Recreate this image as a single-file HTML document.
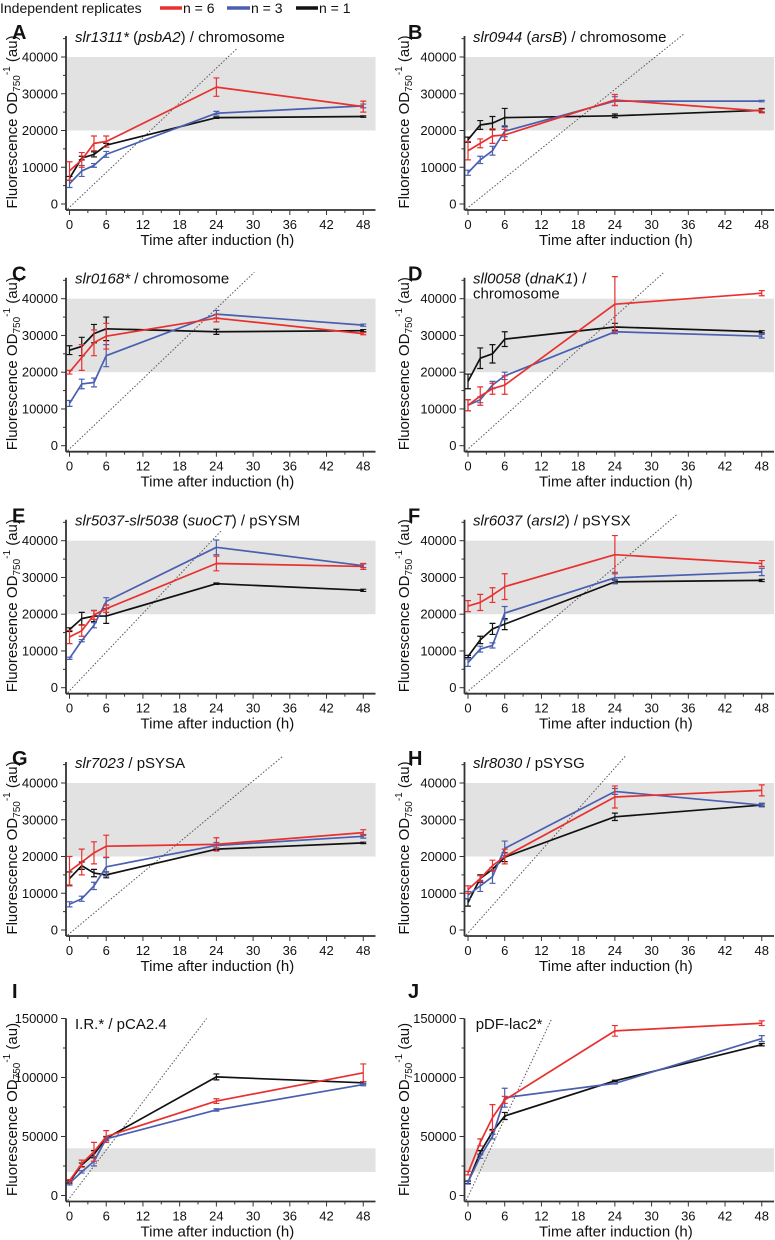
<!DOCTYPE html>
<html><head><meta charset="utf-8"><style>
body{margin:0;background:#fff;width:775px;height:1240px;overflow:hidden}
svg{display:block;font-family:"Liberation Sans",Arial,sans-serif}
</style></head><body>
<svg id="fig" width="775" height="1240" viewBox="0 0 775 1240">
<g>
<text x="0" y="13" font-size="14" fill="#111">Independent replicates</text>
<line x1="160" y1="8" x2="182" y2="8" stroke="#e8312f" stroke-width="3.5"/>
<text x="183" y="13" font-size="14" fill="#111">n = 6</text>
<line x1="227" y1="8" x2="250" y2="8" stroke="#4a5fb0" stroke-width="3.5"/>
<text x="251" y="13" font-size="14" fill="#111">n = 3</text>
<line x1="296" y1="8" x2="318" y2="8" stroke="#111" stroke-width="3.5"/>
<text x="319" y="13" font-size="14" fill="#111">n = 1</text>
</g>
</svg>
<script>
const times=[0,2,4,6,24,48];
const panelLabels=["A","B","C","D","E","F","G","H","I","J"];
const redVals={A:[9000,12000,16500,17000,31800,26500],B:[14500,16500,18500,18800,28300,25300],C:[20000,24000,28000,29800,34700,30500],D:[11000,13500,15500,16500,38500,41500],E:[13800,15500,19800,21500,33800,33000],F:[22200,23200,25200,27500,36200,33800],G:[16000,18500,21000,22800,23300,26500],H:[11000,14000,17500,20000,36200,38000],I:[12500,27000,37000,50000,80000,104000],J:[19000,45000,66000,81000,139500,146000]};
const redErr={A:[2500,2000,2000,1500,2500,1500],B:[2500,1200,2000,1500,1500,500],C:[500,3500,3500,3500,1000,300],D:[1500,2500,1500,2500,7500,700],E:[1800,1500,1200,1000,2000,800],F:[1500,2200,2000,3500,5200,800],G:[4000,3500,3000,3000,1800,800],H:[1000,800,1500,2000,3000,1500],I:[1000,3000,8000,5000,2000,7500],J:[1500,3000,11000,3000,4500,2000]};
const blueVals={A:[5500,9000,10500,13500,24700,26700],B:[8500,12000,14500,19800,28000,28000],C:[11500,16800,17200,24500,35800,32800],D:[11000,12500,16500,19000,31000,29800],E:[8000,12800,17000,23500,38200,33200],F:[6800,10500,11500,20300,29900,31500],G:[7000,8500,12000,17200,23000,25500],H:[9500,12000,14500,22200,37700,34000],I:[10500,20000,29000,48000,72500,94000],J:[11200,33000,50000,82900,95000,133000]};
const blueErr={A:[1000,1500,500,800,500,500],B:[700,1000,1200,1500,1200,200],C:[800,1300,1200,3000,1000,300],D:[1500,800,1000,1000,500,500],E:[300,300,700,1000,2000,500],F:[1000,800,700,1800,1500,1000],G:[700,700,1000,2500,800,500],H:[1000,1500,1800,2000,800,500],I:[1500,1000,4000,1500,1000,1000],J:[1500,1500,2000,8000,500,2500]};
const blackVals={A:[7000,12500,13500,16000,23500,23800],B:[17500,21500,22000,23500,24000,25500],C:[26000,27000,30500,31800,31000,31300],D:[17500,23800,25000,29000,32300,31000],E:[15800,18800,19500,19500,28300,26500],F:[8500,13000,16000,17300,28800,29200],G:[14000,17500,15500,15000,22000,23700],H:[7500,14000,16500,19800,30800,34000],I:[11500,26000,35000,48500,100500,95500],J:[11200,36500,54000,67400,97200,127800]};
const blackErr={A:[500,500,700,500,200,200],B:[700,1200,1800,2500,500,500],C:[1200,2500,2500,3200,700,300],D:[2000,2800,2500,2000,1000,300],E:[500,1700,1500,2000,200,300],F:[300,1000,1500,1500,500,300],G:[1800,1000,1000,800,300,200],H:[1000,1000,500,1200,1000,300],I:[1000,1500,3000,1500,2500,1000],J:[1000,1500,2000,3000,500,1000]};
const smallTicks=[0,10000,20000,30000,40000];
const bigTicks=[0,50000,100000,150000];
const xTicks=[0,6,12,18,24,30,36,42,48];
const refEnd={A:[27.5,42500],B:[35.3,46300],C:[30.2,47200],D:[31.9,47000],E:[24.8,42700],F:[34.2,47200],G:[34.8,47200],H:[25.7,47300],I:[22.4,150000],J:[13.7,150000]};
const bandRange=[20000,40000];
const titles={A:[["slr1311*",1],[" (",0],["psbA2",1],[") / chromosome",0]],B:[["slr0944",1],[" (",0],["arsB",1],[") / chromosome",0]],C:[["slr0168*",1],[" / chromosome",0]],D:[["sll0058",1],[" (",0],["dnaK1",1],[") /",0]],E:[["slr5037-slr5038",1],[" (",0],["suoCT",1],[") / pSYSM",0]],F:[["slr6037",1],[" (",0],["arsI2",1],[") / pSYSX",0]],G:[["slr7023",1],[" / pSYSA",0]],H:[["slr8030",1],[" / pSYSG",0]],I:[["I.R.* / pCA2.4",0]],J:[["pDF-lac2*",0]]};

const NS="http://www.w3.org/2000/svg";
const svg=document.getElementById('fig');
function mk(tag,attrs,parent){const e=document.createElementNS(NS,tag);for(const k in attrs)e.setAttribute(k,attrs[k]);(parent||svg).appendChild(e);return e;}
const rowY0=[204,445.7,687.7,930,1195.5];
const RED="#e8312f",BLUE="#4a5fb0",BLACK="#111";

panelLabels.forEach((L,i)=>{
  const col=i%2,row=Math.floor(i/2);
  const big=row===4;
  const x0=col?468:69.5, y0=rowY0[row];
  const kx=6.12;
  const ky=big?177/50000*1:147/40000;
  const X=h=>x0+h*kx;
  const Y=v=>y0-v*(big?177/150000:147/40000);
  const g=mk('g',{});
  
  
  const axX=x0-3.5, axR=x0+306, axB=y0+6;
  const axTop=big?Y(150000):Y(45700);
  // band
  const band=mk('rect',{x:axX+1,y:Y(bandRange[1]),width:axR-axX-1,height:Y(bandRange[0])-Y(bandRange[1]),fill:"#e2e2e2"},g);
  
  
  // dotted reference
  const re=refEnd[L];
  const dl=mk('line',{x1:X(-0.3),y1:axB-1,x2:X(re[0]),y2:Y(re[1]),stroke:"#555","stroke-width":1,"stroke-dasharray":"1.5,1.8"},g);
  
  
  // axes
  const ya=mk('line',{x1:axX,y1:axTop,x2:axX,y2:axB,stroke:"#333","stroke-width":1.8},g);
  
  
  const xa=mk('line',{x1:axX,y1:axB,x2:axR,y2:axB,stroke:"#333","stroke-width":1.8},g);
  
  
  const yt=big?bigTicks:smallTicks;
  const minorStep=big?25000:5000, maxV=big?150000:45000;
  for(let v=0;v<=maxV;v+=minorStep){mk('line',{x1:axX-(yt.includes(v)?5:3),y1:Y(v),x2:axX,y2:Y(v),stroke:"#333","stroke-width":1},g);}
  yt.forEach(v=>{const t=mk('text',{x:axX-8,y:Y(v)+4.5,"font-size":13,"text-anchor":"end",fill:"#111"},g);t.textContent=v;
    
    });
  for(let h=0;h<=48;h+=3){mk('line',{x1:X(h),y1:axB,x2:X(h),y2:axB+(h%6===0?5:3),stroke:"#333","stroke-width":1},g);}
  xTicks.forEach(h=>{const t=mk('text',{x:X(h),y:axB+19,"font-size":13,"text-anchor":"middle",fill:"#111"},g);t.textContent=h;
    
    });
  const xt=mk('text',{x:X(24)+1,y:axB+35,"font-size":15,"text-anchor":"middle",fill:"#111"},g);xt.textContent="Time after induction (h)";
  
  
  const ycx=col?404:12, ycy=big?y0-86:y0-82;
  const ytl=mk('text',{x:0,y:0,"font-size":15,"text-anchor":"middle",fill:"#111",transform:`translate(${ycx+5},${ycy}) rotate(-90)`},g);
  ytl.innerHTML='Fluorescence OD<tspan font-size="10" dy="3">750</tspan><tspan font-size="10" dy="-10">-1</tspan><tspan dy="7"> (au)</tspan>';
  
  
  // panel label
  const pl=mk('text',{x:col?408:12,y:big?998:y0-165,"font-size":20,"font-weight":"bold",fill:"#111"},g);pl.textContent=L;
  
  
  // title
  const tx=col?(big?475.7:473):75, ty=big?1029:y0-162;
  const tt=mk('text',{x:tx,y:ty,"font-size":15,fill:"#111"},g);
  titles[L].forEach(s=>{const sp=mk('tspan',{},tt);if(s[1])sp.setAttribute('font-style','italic');sp.textContent=s[0];});
  if(L==="D"){const t2=mk('text',{x:tx,y:ty+15,"font-size":15,fill:"#111"},g);t2.textContent="chromosome";}
  
  
  // series
  [[blackVals,blackErr,BLACK,'n1'],[blueVals,blueErr,BLUE,'n3'],[redVals,redErr,RED,'n6']].forEach(([V,E,c,n])=>{
    const vals=V[L],errs=E[L];
    const sg=mk('g',{},g);
    
    
    vals.forEach((v,k)=>{const xx=X(times[k]);const a=Y(v+errs[k]),b=Y(v-errs[k]);
      const eb=mk('path',{d:`M${xx},${a}V${b}M${xx-3},${a}H${xx+3}M${xx-3},${b}H${xx+3}`,stroke:c,"stroke-width":1.2,fill:"none"},sg);
      
      });
    const pts=vals.map((v,k)=>X(times[k])+','+Y(v)).join(' ');
    const pl2=mk('polyline',{points:pts,fill:"none",stroke:c,"stroke-width":1.7,"stroke-linejoin":"round"},sg);
    
    
  });
});
</script>
</body></html>
